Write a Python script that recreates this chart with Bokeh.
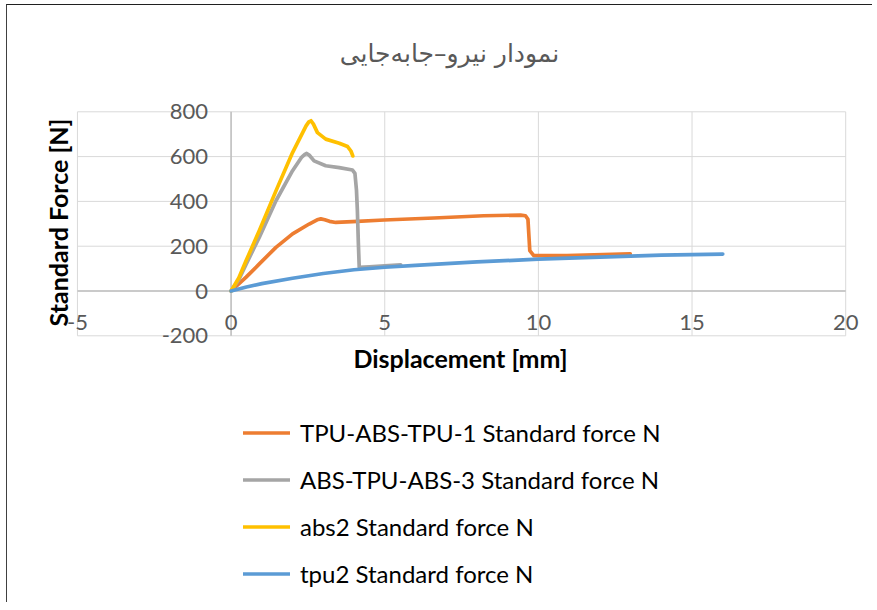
import math
from bokeh.plotting import figure
from bokeh.models import Label, LabelSet, ColumnDataSource, Legend, LegendItem, Range1d
from bokeh.core.properties import value
from bokeh.embed import file_html
from bokeh.resources import INLINE

# ---------------- data ----------------
title_text = "نمودار نیرو–جابه‌جایی"
x_title = "Displacement [mm]"
y_title = "Standard Force [N]"

x_min, x_max = -5, 20
y_min, y_max = -200, 800
x_ticks = [-5, 0, 5, 10, 15, 20]
x_tick_labels = ["-5", "0", "5", "10", "15", "20"]
y_ticks = [-200, 0, 200, 400, 600, 800]
y_tick_labels = ["-200", "0", "200", "400", "600", "800"]

names = ["TPU-ABS-TPU-1 Standard force N", "ABS-TPU-ABS-3 Standard force N",
         "abs2 Standard force N", "tpu2 Standard force N"]
colors = ["#ED7D31", "#A5A5A5", "#FFC000", "#5B9BD5"]

tat1_x = [0, 0.49, 0.92, 1.46, 2.0, 2.54, 2.8, 2.92, 3.05, 3.2, 3.41, 3.95, 4.98, 6.6, 8.22,
          9.42, 9.58, 9.66, 9.69, 9.72, 9.85, 10.93, 12.99]
tat1_y = [0, 62, 121, 195, 255, 299, 318, 322, 318, 311, 306, 310, 317, 326, 336,
          339, 336, 320, 250, 180, 158, 158, 166]

ata3_x = [0, 0.25, 0.49, 0.92, 1.46, 2.0, 2.3, 2.4, 2.46, 2.54, 2.7, 3.08, 3.52, 3.95, 4.03,
          4.08, 4.11, 4.14, 4.17, 4.5, 5.0, 5.52]
ata3_y = [0, 50, 120, 240, 403, 537, 598, 610, 614, 607, 581, 559, 551, 540, 525,
          450, 358, 220, 106, 108, 112, 117]

abs2_x = [0, 0.25, 0.49, 0.92, 1.46, 2.0, 2.44, 2.53, 2.6, 2.68, 2.81, 3.08, 3.52, 3.79, 3.9,
          3.96]
abs2_y = [0, 58, 136, 270, 447, 618, 737, 755, 760, 745, 707, 678, 660, 645, 625, 603]

tpu2_x = [0, 0.5, 1, 2, 3, 4, 5, 6, 8, 10, 12, 13, 14, 16]
tpu2_y = [0, 18, 33, 57, 78, 95, 106, 114, 130, 142, 151, 156, 160, 165]

series_x = [tat1_x, ata3_x, abs2_x, tpu2_x]
series_y = [tat1_y, ata3_y, abs2_y, tpu2_y]

# ---------------- figure ----------------
# the frame fills the whole canvas; ranges are widened so the chart's plot area
# (x -5..20, y -200..800) lands where it sits in the reference
p = figure(width=866, height=598,
           x_range=Range1d(-7.276, 20.905), y_range=Range1d(-1395.1, 1274.6),
           x_axis_type=None, y_axis_type=None, output_backend="svg", toolbar_location=None,
           min_border=0, min_border_left=0, min_border_right=0, min_border_top=0,
           min_border_bottom=0, title=None)
p.outline_line_color = None
p.background_fill_color = "white"
p.border_fill_color = "white"
p.xgrid.visible = False
p.ygrid.visible = False
p.styles = {"margin-left": "6px", "margin-top": "4px",
            "border-left": "1px solid #404040", "border-top": "1px solid #202020"}

# gridlines
p.segment(x0=x_ticks, y0=[y_min] * len(x_ticks), x1=x_ticks, y1=[y_max] * len(x_ticks),
          line_color="#D9D9D9", line_width=1)
p.segment(x0=[x_min] * len(y_ticks), y0=y_ticks, x1=[x_max] * len(y_ticks), y1=y_ticks,
          line_color="#D9D9D9", line_width=1)
# axis lines crossing at zero
p.segment(x0=[0, x_min], y0=[y_min, 0], x1=[0, x_max], y1=[y_max, 0],
          line_color="#BFBFBF", line_width=1.5)

renderers = []
for xs, ys, c in zip(series_x, series_y, colors):
    r = p.line(xs, ys, line_color=c, line_width=3.7, line_join="round", line_cap="round")
    renderers.append(r)

legend = Legend(items=[LegendItem(label=n, renderers=[r]) for n, r in zip(names, renderers)],
                location=(236, 15), orientation="vertical", glyph_width=47, glyph_height=29,
                label_height=29, label_standoff=10, spacing=18, padding=0, margin=0,
                border_line_alpha=0, background_fill_alpha=0,
                label_text_font="Lato", label_text_font_size="24px",
                label_text_color="#000000", label_text_baseline="middle")
p.add_layout(legend, "center")

# tick labels
ysrc = ColumnDataSource(dict(x=[0] * len(y_ticks), y=y_ticks, t=y_tick_labels))
p.add_layout(LabelSet(x="x", y="y", text="t", source=ysrc, x_offset=-23,
                      text_align="right", text_baseline="middle",
                      text_font=value("Lato"), text_font_size=value("22px"),
                      text_color="#595959"))
xsrc = ColumnDataSource(dict(x=x_ticks, y=[0] * len(x_ticks), t=x_tick_labels))
p.add_layout(LabelSet(x="x", y="y", text="t", source=xsrc, y_offset=-31,
                      text_align="center", text_baseline="middle",
                      text_font=value("Lato"), text_font_size=value("22px"),
                      text_color="#595959"))

# titles
p.add_layout(Label(x=7.465, y=-296.9, text=x_title, text_align="center", text_baseline="middle",
                   text_font="Lato", text_font_size="25px", text_font_style="bold",
                   text_color="#000000"))
p.add_layout(Label(x=-5.617, y=305.8, text=y_title, text_align="center", text_baseline="middle",
                   angle=math.pi / 2, text_font="Lato", text_font_size="25px",
                   text_font_style="bold", text_color="#000000"))
p.add_layout(Label(x=7.107, y=1060.3, text=title_text, text_align="center", text_baseline="middle",
                   text_font="DejaVu Sans", text_font_size="25px", text_color="#595959"))

open("out.html", "w").write(file_html(p, INLINE))
